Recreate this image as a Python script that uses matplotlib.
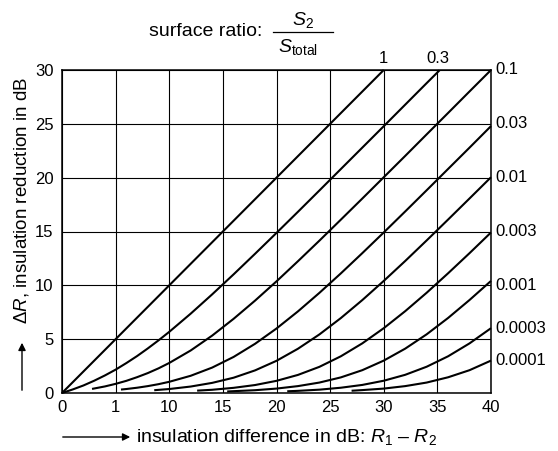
import matplotlib
matplotlib.use('Agg')
import matplotlib.pyplot as plt
from matplotlib.patches import FancyArrowPatch
from matplotlib.lines import Line2D

plt.rcParams['font.family'] = 'Liberation Sans'
plt.rcParams['mathtext.fontset'] = 'custom'
plt.rcParams['mathtext.rm'] = 'Liberation Sans'
plt.rcParams['mathtext.it'] = 'Liberation Sans:italic'

# insulation difference R1 - R2 (dB) and reduction dR (dB)
d_1 = [0, 30]
r_1 = [0, 30]

d_03 = [0, 1, 2, 3, 4, 5, 6, 7, 8, 9, 10, 12, 14, 16, 18, 20, 22, 24, 26, 28, 30, 32, 34, 35.2]
r_03 = [0, 0.33, 0.70, 1.14, 1.63, 2.17, 2.78, 3.43, 4.14, 4.89, 5.68, 7.37, 9.16, 11.02,
        12.93, 14.87, 16.83, 18.81, 20.80, 22.79, 24.78, 26.78, 28.78, 29.97]

d_01 = [2.8, 4, 5, 6, 7, 8, 9, 10, 12, 14, 16, 18, 20, 22, 24, 26, 28, 30, 32, 34, 36, 38, 40]
r_01 = [0.38, 0.61, 0.85, 1.13, 1.47, 1.85, 2.29, 2.79, 3.95, 5.33, 6.89, 8.58, 10.37,
        12.24, 14.15, 16.10, 18.06, 20.04, 22.02, 24.02, 26.01, 28.01, 30.0]

d_003 = [5.5, 6, 7, 8, 9, 10, 12, 14, 16, 18, 20, 22, 24, 26, 28, 30, 32, 34, 36, 38, 40]
r_003 = [0.32, 0.37, 0.49, 0.64, 0.82, 1.04, 1.60, 2.36, 3.35, 4.57, 5.99, 7.58, 9.30,
         11.11, 12.99, 14.91, 16.86, 18.83, 20.81, 22.79, 24.79]

d_001 = [8.6, 10, 12, 14, 16, 18, 20, 22, 24, 26, 28, 30, 32, 34, 36, 38, 40]
r_001 = [0.26, 0.37, 0.60, 0.94, 1.42, 2.10, 2.99, 4.11, 5.44, 6.96, 8.63, 10.41, 12.26,
         14.17, 16.11, 18.07, 20.04]

d_0003 = [12.6, 14, 16, 18, 20, 22, 24, 26, 28, 30, 32, 34, 36, 38, 40]
r_0003 = [0.22, 0.30, 0.48, 0.74, 1.13, 1.68, 2.43, 3.41, 4.61, 6.02, 7.60, 9.31, 11.12,
          12.99, 14.91]

d_0001 = [15.4, 16, 18, 20, 22, 24, 26, 28, 30, 32, 34, 36, 38, 40]
r_0001 = [0.14, 0.17, 0.26, 0.41, 0.64, 0.97, 1.45, 2.12, 3.01, 4.12, 5.45, 6.97, 8.64, 10.41]

d_00003 = [21, 22, 24, 26, 28, 30, 32, 34, 36, 38, 40]
r_00003 = [0.16, 0.20, 0.31, 0.49, 0.75, 1.14, 1.69, 2.44, 3.41, 4.61, 6.02]

d_00001 = [27, 28, 30, 32, 34, 36, 38, 40]
r_00001 = [0.21, 0.27, 0.41, 0.64, 0.97, 1.46, 2.12, 3.01]

curves = [(d_1, r_1), (d_03, r_03), (d_01, r_01), (d_003, r_003), (d_001, r_001),
          (d_0003, r_0003), (d_0001, r_0001), (d_00003, r_00003), (d_00001, r_00001)]

right_labels = ['0.1', '0.03', '0.01', '0.003', '0.001', '0.0003', '0.0001']
right_ys = [30, 25, 20, 15, 10, 6, 3]
top_labels = ['1', '0.3']
top_xs = [30, 35]

xticks = [0, 5, 10, 15, 20, 25, 30, 35, 40]
xticklabels = ['0', '1', '10', '15', '20', '25', '30', '35', '40']
yticks = [0, 5, 10, 15, 20, 25, 30]

W, H = 558, 451


def fx(px):
    return px / W


def fy(py):
    return 1 - py / H


fig = plt.figure(figsize=(5.58, 4.51), dpi=100)
ax = fig.add_axes([fx(62), fy(393), (491 - 62) / W, (393 - 70) / H])

for d, r in curves:
    ax.plot(d, r, color='black', lw=1.5, solid_capstyle='butt', clip_on=False)

ax.set_xlim(0, 40)
ax.set_ylim(0, 30)
ax.set_xticks(xticks)
ax.set_xticklabels(xticklabels)
ax.set_yticks(yticks)
ax.tick_params(length=0, labelsize=12)
ax.tick_params(axis='y', pad=6)
ax.tick_params(axis='x', pad=5)
ax.grid(True, color='black', lw=0.8)
for s in ax.spines.values():
    s.set_linewidth(1.1)

for lab, y in zip(right_labels, right_ys):
    ax.text(40.4, y, lab, ha='left', va='center', fontsize=12)
for lab, x in zip(top_labels, top_xs):
    ax.text(x, 30.65, lab, ha='center', va='baseline', fontsize=12)

# title with fraction
fig.text(fx(262), fy(36), 'surface ratio:', ha='right', va='baseline', fontsize=14)
fig.add_artist(Line2D([fx(273), fx(333)], [fy(32), fy(32)], color='black', lw=0.9))
fig.text(fx(303), fy(25), r'$S_2$', ha='center', va='baseline', fontsize=14)
fig.text(fx(278), fy(52), r'$S_{\mathrm{total}}$', ha='left', va='baseline', fontsize=14)

# y-axis label with arrow
fig.text(fx(22), fy(201), r'$\Delta R$, insulation reduction in dB', rotation=90,
         ha='center', va='center', fontsize=13.5)
fig.add_artist(FancyArrowPatch((fx(22), fy(393)), (fx(22), fy(340)),
               transform=fig.transFigure, arrowstyle='-|>', mutation_scale=11, color='black', lw=1))

# x-axis label with arrow
fig.add_artist(FancyArrowPatch((fx(60), fy(437)), (fx(133), fy(437)),
               transform=fig.transFigure, arrowstyle='-|>', mutation_scale=11, color='black', lw=1))
fig.text(fx(136), fy(437), r'insulation difference in dB: $R_1$ – $R_2$',
         ha='left', va='center', fontsize=14)

fig.savefig('out.png', dpi=100)
